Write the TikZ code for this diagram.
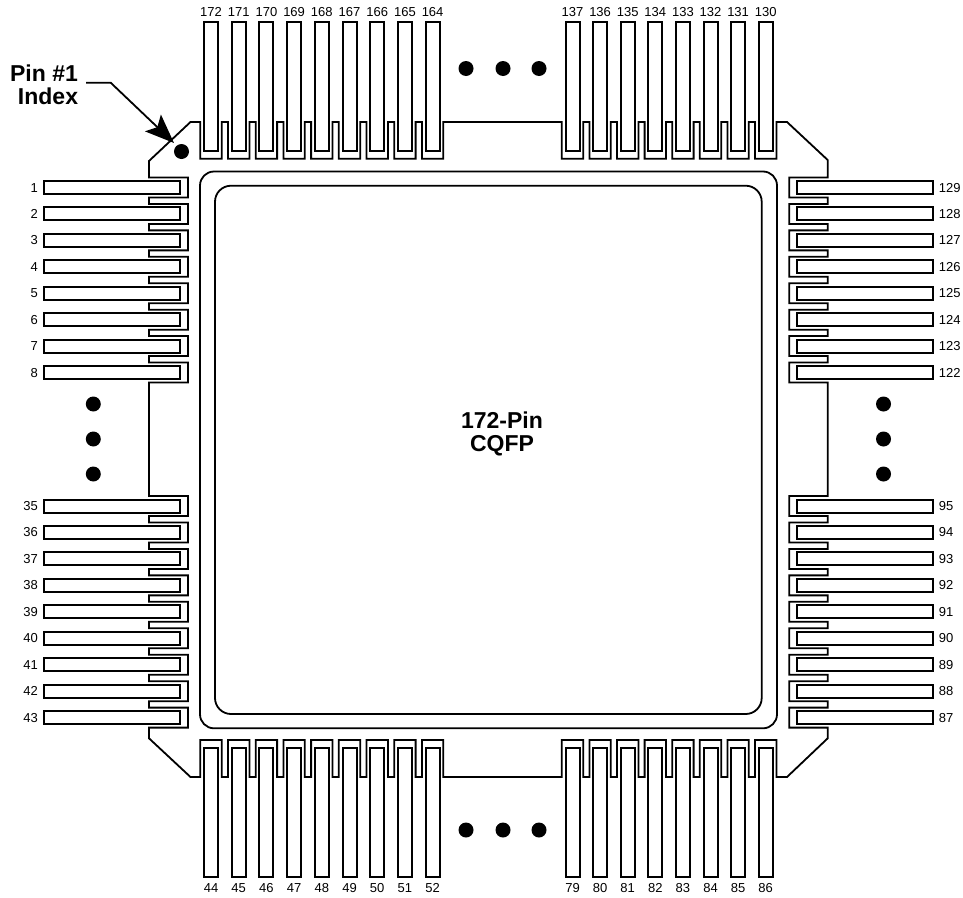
\documentclass[tikz,border=0pt]{standalone}
\usepackage{fontspec}
\setmainfont{Liberation Sans}
\usepackage{tikz}
\usetikzlibrary{arrows.meta,positioning}
\tikzstyle{outline} = [line width=1.8pt, line join=miter, draw=black]
\tikzstyle{pinh} = [rectangle, draw=black, line width=2pt, inner sep=0pt, minimum width=136pt, minimum height=13pt]
\tikzstyle{pinv} = [rectangle, draw=black, line width=2pt, inner sep=0pt, minimum width=14pt, minimum height=129pt]
\tikzstyle{pinlabel} = [inner sep=0pt, text height=9pt, text depth=0pt, font=\fontsize{13}{13}\selectfont]
\tikzstyle{title} = [inner sep=0pt, align=center, font=\fontsize{23}{22.5}\selectfont\bfseries]
\tikzstyle{dot} = [circle, fill=black, inner sep=0pt, minimum size=15pt]
\tikzstyle{pointer} = [line width=1.8pt, -{Stealth[length=29pt,width=23pt,inset=6pt]}]

\begin{document}
\begin{tikzpicture}[x=1pt,y=-1pt]
\useasboundingbox (0,0) rectangle (963,897);

% Package body
\draw[outline] (149,161) -- (190.5,122)
  \foreach \i in {0,...,8} { -- ({200.3+27.7*\i},122) -- ({200.3+27.7*\i},158.7) -- ({221.7+27.7*\i},158.7) -- ({221.7+27.7*\i},122) }
  \foreach \i in {0,...,7} { -- ({561.8+27.6*\i},122) -- ({561.8+27.6*\i},158.7) -- ({583.2+27.6*\i},158.7) -- ({583.2+27.6*\i},122) }
  -- (787,122) -- (827.7,160)
  \foreach \i in {0,...,7} { -- (827.7,{177.5+26.43*\i}) -- (789.3,{177.5+26.43*\i}) -- (789.3,{197.5+26.43*\i}) -- (827.7,{197.5+26.43*\i}) }
  \foreach \i in {0,...,8} { -- (827.7,{496+26.45*\i}) -- (789.3,{496+26.45*\i}) -- (789.3,{516+26.45*\i}) -- (827.7,{516+26.45*\i}) }
  -- (827.7,738.3) -- (787,777)
  \foreach \i in {7,6,...,0} { -- ({583.2+27.6*\i},777) -- ({583.2+27.6*\i},740) -- ({561.8+27.6*\i},740) -- ({561.8+27.6*\i},777) }
  \foreach \i in {8,7,...,0} { -- ({221.7+27.7*\i},777) -- ({221.7+27.7*\i},740) -- ({200.3+27.7*\i},740) -- ({200.3+27.7*\i},777) }
  -- (190.5,777) -- (149,738.3)
  \foreach \i in {8,7,...,0} { -- (149,{516+26.45*\i}) -- (188,{516+26.45*\i}) -- (188,{496+26.45*\i}) -- (149,{496+26.45*\i}) }
  \foreach \i in {7,6,...,0} { -- (149,{197.5+26.43*\i}) -- (188,{197.5+26.43*\i}) -- (188,{177.5+26.43*\i}) -- (149,{177.5+26.43*\i}) }
  -- cycle;

% Die outlines
\draw[outline, rounded corners=14pt] (200,171.5) rectangle (777,728.3);
\draw[outline, rounded corners=16pt] (215,185.7) rectangle (761.7,714);

% Left pins
\foreach \n in {1,...,8}
  \node (pin\n) [pinh] at (112,{187.5+26.43*(\n-1)}) {};
\foreach \n in {35,...,43}
  \node (pin\n) [pinh] at (112,{506+26.45*(\n-35)}) {};
\foreach \n in {1,...,8,35,36,...,43}
  \node [pinlabel, left=5pt of pin\n] {\n};

% Right pins
\foreach \n in {129,128,...,122}
  \node (pin\n) [pinh] at (864.7,{187.5+26.43*(129-\n)}) {};
\foreach \n in {95,94,...,87}
  \node (pin\n) [pinh] at (864.7,{506+26.45*(95-\n)}) {};
\foreach \n in {129,128,...,122,95,94,...,87}
  \node [pinlabel, right=5pt of pin\n] {\n};

% Top pins
\foreach \n in {172,171,...,164}
  \node (pin\n) [pinv] at ({211+27.7*(172-\n)},86.2) {};
\foreach \n in {137,136,...,130}
  \node (pin\n) [pinv] at ({572.5+27.6*(137-\n)},86.2) {};
\foreach \n in {172,171,...,164,137,136,...,130}
  \node [pinlabel, above=4pt of pin\n] {\n};

% Bottom pins
\foreach \n in {44,...,52}
  \node (pin\n) [pinv] at ({211+27.7*(\n-44)},812.5) {};
\foreach \n in {79,...,86}
  \node (pin\n) [pinv] at ({572.5+27.6*(\n-79)},812.5) {};
\foreach \n in {44,...,52,79,80,...,86}
  \node [pinlabel, below=5pt of pin\n] {\n};

% Ellipsis dots
\foreach \x in {466,503,539} {
  \node [dot] at (\x,68.5) {};
  \node [dot] at (\x,830) {};
}
\foreach \y in {404,439,474} {
  \node [dot] at (93.3,\y) {};
  \node [dot] at (883.5,\y) {};
}

% Index mark
\node (indexdot) [dot] at (181.5,151.5) {};
\node (pintext) [title] at (44,72.7) {Pin \#1};
\node (indextext) [title] at (48,96) {Index};
\coordinate (indexstart) at (86,82.7);
\coordinate (indexbend) at (110.7,82.7);
\coordinate (indextip) at (174,143);
\draw[pointer] (indexstart) -- (indexbend) -- (indextip);

% Labels
\node (partname) [title] at (502,434) {172-Pin\\CQFP};
\end{tikzpicture}
\end{document}
